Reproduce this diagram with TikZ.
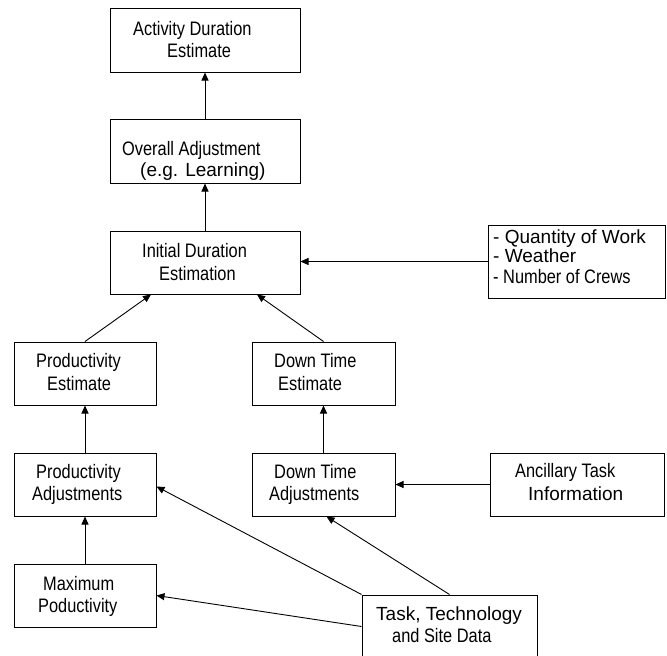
\documentclass[tikz,border=0pt]{standalone}
\usepackage{fontspec}
\setmainfont{Liberation Sans}
\newfontfamily\cfont[FakeStretch=0.84]{Liberation Sans}
\usetikzlibrary{arrows.meta}
\tikzset{
  box/.style={draw, line width=1pt, inner sep=0pt, rectangle},
  lbl/.style={anchor=base west, inner sep=0pt, font=\fontsize{19pt}{22pt}\selectfont},
  clbl/.style={anchor=base west, inner sep=0pt, font=\fontsize{19.5pt}{22pt}\selectfont\cfont},
  arr/.style={line width=0.9pt, -{Triangle[length=8pt,width=7pt]}}
}
\begin{document}
\begin{tikzpicture}[x=1pt,y=-1pt]
\clip (0,0) rectangle (667,656);
\fill[white] (0,0) rectangle (667,656);
% boxes
\node[box, minimum width=190pt, minimum height=64pt] (ade) at (205,40) {};
\node[box, minimum width=190pt, minimum height=64pt] (oa) at (205,151) {};
\node[box, minimum width=190pt, minimum height=63pt] (ide) at (205,262.5) {};
\node[box, minimum width=177pt, minimum height=73pt] (q) at (576.5,261.5) {};
\node[box, minimum width=142pt, minimum height=63pt] (pe) at (85,373.5) {};
\node[box, minimum width=143pt, minimum height=63pt] (dte) at (323.5,373.5) {};
\node[box, minimum width=142pt, minimum height=63pt] (pa) at (85,484.5) {};
\node[box, minimum width=143pt, minimum height=63pt] (dta) at (323.5,484.5) {};
\node[box, minimum width=174pt, minimum height=63pt] (ati) at (577,484.5) {};
\node[box, minimum width=142pt, minimum height=63pt] (mp) at (85,595.5) {};
\node[box, minimum width=175pt, minimum height=90pt] (tts) at (449.5,640) {};
% labels
\node[clbl] (t1a) at (133,35) {Activity Duration};
\node[clbl] (t1b) at (167,57) {Estimate};
\node[clbl] (t2a) at (122,155) {Overall Adjustment};
\node[lbl] (t2b) at (140,176) {(e.g. Learning)};
\node[clbl] (t3a) at (142,257) {Initial Duration};
\node[clbl] (t3b) at (159,280) {Estimation};
\node[lbl] (t4a) at (493,243) {- Quantity of Work};
\node[lbl] (t4b) at (493,262) {- Weather};
\node[clbl] (t4c) at (493,283) {- Number of Crews};
\node[clbl] (t5a) at (36,367) {Productivity};
\node[clbl] (t5b) at (47,390) {Estimate};
\node[clbl] (t6a) at (274,367) {Down Time};
\node[clbl] (t6b) at (278,390) {Estimate};
\node[clbl] (t7a) at (36,478) {Productivity};
\node[clbl] (t7b) at (32,500) {Adjustments};
\node[clbl] (t8a) at (274,478) {Down Time};
\node[clbl] (t8b) at (269,500) {Adjustments};
\node[clbl] (t9a) at (515,477) {Ancillary Task};
\node[lbl] (t9b) at (528,500) {Information};
\node[clbl] (t10a) at (43,590) {Maximum};
\node[clbl] (t10b) at (38,612) {Poductivity};
\node[lbl] (t11a) at (376,620) {Task, Technology};
\node[clbl] (t11b) at (392,642) {and Site Data};
% connectors
\draw[arr] (oa.north) -- (ade.south);
\draw[arr] (ide.north) -- (oa.south);
\draw[arr] (pe.north) -- ([xshift=-54pt]ide.south);
\draw[arr] (dte.north) -- ([xshift=52pt]ide.south);
\draw[arr] (q.west) -- (ide.east |- q.west);
\draw[arr] (pa.north) -- (pe.south);
\draw[arr] (dta.north) -- (dte.south);
\draw[arr] (mp.north) -- (pa.south);
\draw[arr] (ati.west) -- (dta.east);
\draw[arr] (tts.north west) -- ([yshift=-2pt]pa.east);
\draw[arr] (tts.north) -- ([xshift=3pt]dta.south);
\draw[arr] ([yshift=-32pt]tts.north west) -- (mp.east);
\end{tikzpicture}
\end{document}
